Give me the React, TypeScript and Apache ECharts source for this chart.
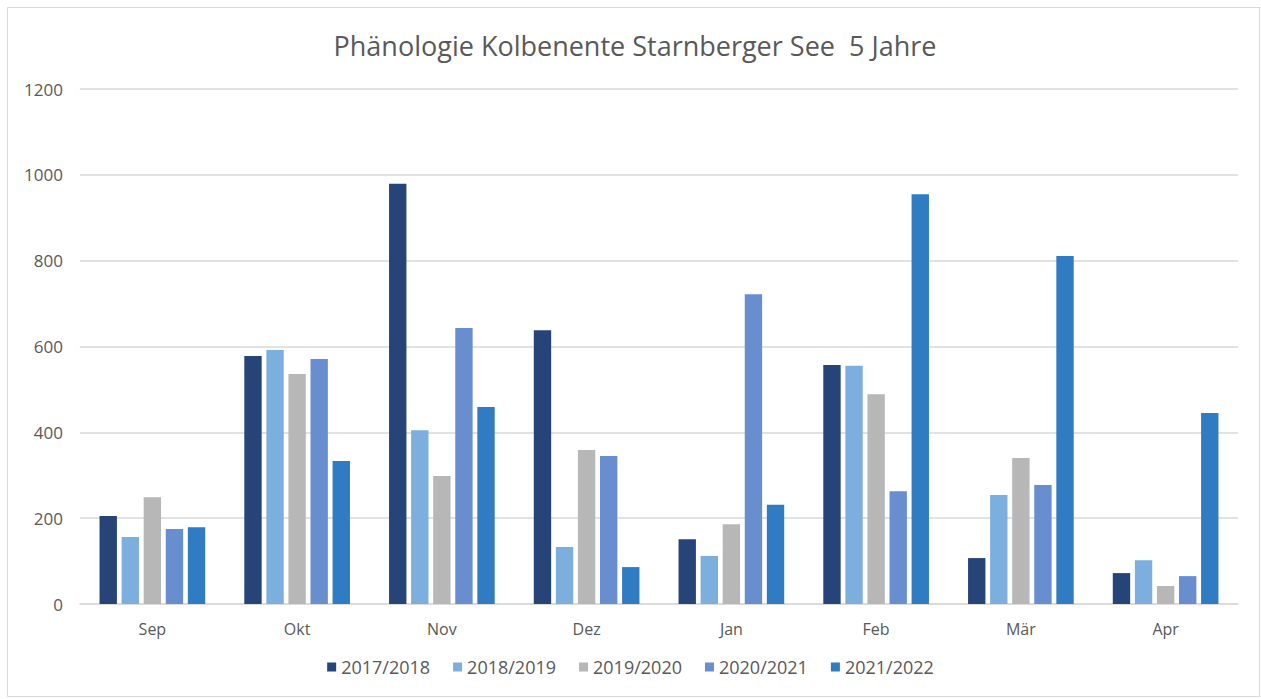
import React, { useEffect, useRef } from "react";
import * as echarts from "echarts";

const months = ["Sep", "Okt", "Nov", "Dez", "Jan", "Feb", "Mär", "Apr"];
const seasons = ["2017/2018", "2018/2019", "2019/2020", "2020/2021", "2021/2022"];
const s1718 = [205, 578, 979, 638, 151, 557, 107, 72];
const s1819 = [156, 592, 405, 133, 112, 555, 254, 102];
const s1920 = [249, 536, 298, 359, 186, 489, 340, 42];
const s2021 = [175, 571, 643, 345, 722, 263, 277, 65];
const s2122 = [179, 333, 459, 86, 231, 955, 811, 445];
const seriesValues = [s1718, s1819, s1920, s2021, s2122];
const colors = ["#264478", "#7cafdd", "#b7b7b7", "#698ed0", "#2f7cc3"];
const yTicks = { min: 0, max: 1200, interval: 200 };
const titleText = "Phänologie Kolbenente Starnberger See  5 Jahre";

const FONT = "'Open Sans', 'Noto Sans', sans-serif";

export default function App() {
  const ref = useRef<HTMLDivElement>(null);
  useEffect(() => {
    document.body.style.margin = "0";
    const chart = echarts.init(ref.current!, null, { renderer: "svg" });
    chart.setOption({
      animation: false,
      backgroundColor: "#ffffff",
      color: colors,
      textStyle: { fontFamily: FONT },
      title: {
        text: titleText,
        left: 630,
        textAlign: "center",
        top: 27,
        textStyle: { fontFamily: FONT, fontSize: 27, fontWeight: "normal", color: "#595959" },
      },
      graphic: [
        {
          type: "rect",
          shape: { x: 7.5, y: 7.5, width: 1252, height: 689 },
          style: { fill: "none", stroke: "#d9d9d9", lineWidth: 1 },
          silent: true,
        },
      ],
      legend: {
        data: seasons,
        bottom: 18,
        left: "center",
        itemWidth: 9,
        itemHeight: 9,
        itemGap: 23,
        icon: "rect",
        textStyle: { fontFamily: FONT, fontSize: 18, color: "#595959", padding: [0, 0, 0, 0] },
      },
      grid: { left: 80, right: 23, top: 89, bottom: 95, containLabel: false },
      xAxis: {
        type: "category",
        data: months,
        axisLine: { lineStyle: { color: "#d9d9d9", width: 1.5 } },
        axisTick: { show: false },
        axisLabel: { fontFamily: FONT, fontSize: 16, color: "#595959", margin: 17 },
      },
      yAxis: {
        type: "value",
        min: yTicks.min,
        max: yTicks.max,
        interval: yTicks.interval,
        axisLine: { show: false },
        axisTick: { show: false },
        splitLine: { lineStyle: { color: "#d9d9d9", width: 1.5 } },
        axisLabel: {
          fontFamily: FONT,
          fontSize: 17,
          color: "#595959",
          margin: 17,
          formatter: (v: number) => String(v),
        },
      },
      series: seasons.map((name, i) => ({
        name,
        type: "bar",
        data: seriesValues[i],
        barGap: "27%",
        barCategoryGap: "27%",
        itemStyle: { color: colors[i] },
      })),
    });
    return () => chart.dispose();
  }, []);
  return <div ref={ref} style={{ width: 1261, height: 699 }} />;
}
